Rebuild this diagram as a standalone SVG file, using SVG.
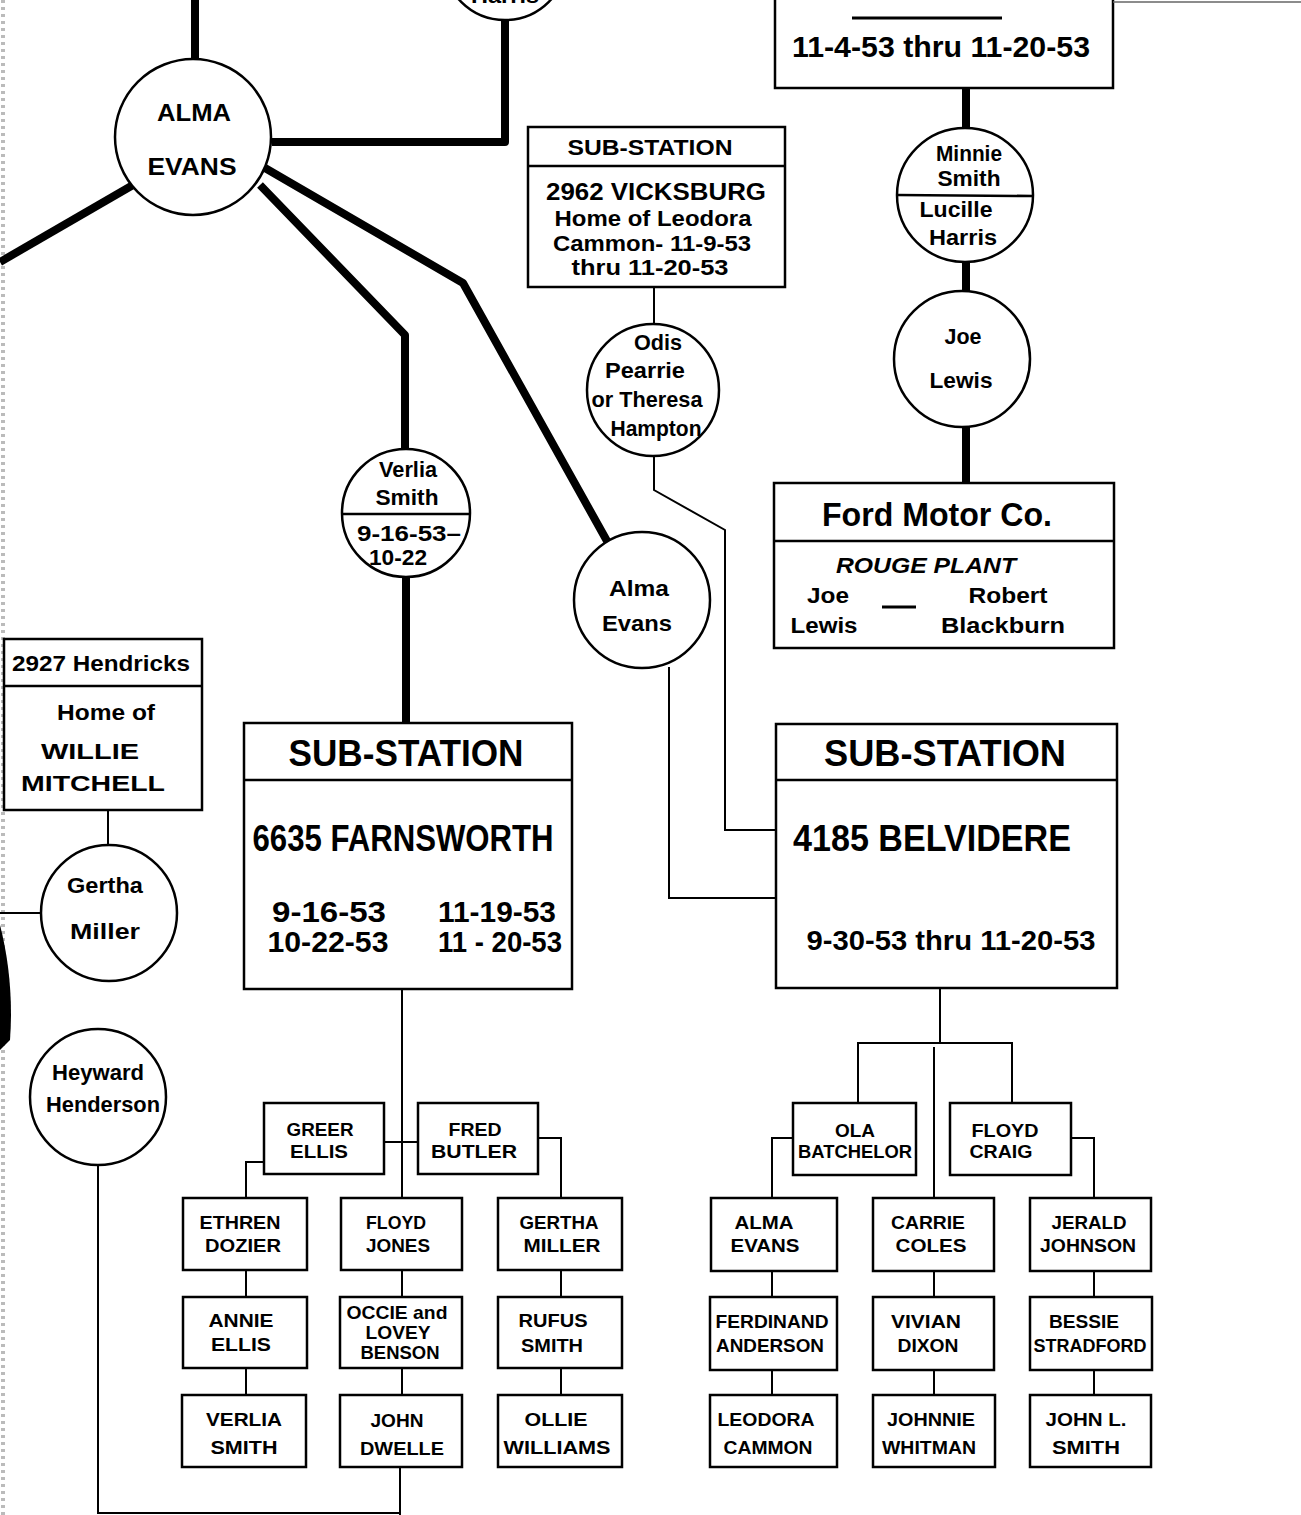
<svg xmlns="http://www.w3.org/2000/svg" width="1301" height="1515" viewBox="0 0 1301 1515">
<style>
.thick{stroke:#000;stroke-width:8;fill:none;stroke-linejoin:round}
.thin{stroke:#000;stroke-width:2;fill:none}
.box{fill:#fff;stroke:#000;stroke-width:2.5}
.div{stroke:#000;stroke-width:2.5}
.t{font-family:"Liberation Sans",Arial,sans-serif;font-weight:bold;text-anchor:middle;fill:#000}
.c{font-size:22px}
.s{font-size:19px}
.st{text-anchor:start}
</style>
<rect width="1301" height="1515" fill="#fff"/>
<line x1="3" y1="0" x2="3" y2="1515" stroke="#bbb" stroke-width="4" stroke-dasharray="3 4"/>
<path d="M0,925 C9,960 13,1000 10,1040 L0,1050 Z" fill="#000"/>
<g id="connectors">
<path class="thick" d="M195,0 V60"/>
<path class="thick" d="M272,142 H505 V18"/>
<path class="thick" d="M133,185 L0,262"/>
<path class="thick" d="M260,185 L405,335 V450"/>
<path class="thick" d="M265,168 L463,283 L607,541"/>
<path class="thick" d="M966,88 V130"/>
<path class="thick" d="M966,262 V292"/>
<path class="thick" d="M966,426 V483"/>
<path class="thick" d="M406,576 V723"/>
<path class="thin" d="M654,287 V325"/>
<path class="thin" d="M654,456 V490 L725,530 V830 H776"/>
<path class="thin" d="M669,667 V898 H776"/>
<path class="thin" d="M108,810 V846"/>
<path class="thin" d="M0,913 H41"/>
<path class="thin" d="M98,1165 V1513 H400"/>
<path class="thin" d="M400,1467 V1515"/>
<path class="thin" d="M402,989 V1198"/>
<path class="thin" d="M384,1142 H418"/>
<path class="thin" d="M264,1162 H246 V1198"/>
<path class="thin" d="M538,1138 H561 V1198"/>
<path class="thin" d="M246,1270 V1297 M246,1368 V1395 M402,1270 V1297 M402,1368 V1395 M561,1270 V1297 M561,1368 V1395"/>
<path class="thin" d="M940,988 V1043"/>
<path class="thin" d="M858,1103 V1043 H1012 V1103"/>
<path class="thin" d="M934,1047 V1198"/>
<path class="thin" d="M793,1138 H772 V1198"/>
<path class="thin" d="M1071,1138 H1094 V1198"/>
<path class="thin" d="M772,1271 V1297 M772,1370 V1395 M934,1271 V1297 M934,1370 V1395 M1094,1271 V1297 M1094,1370 V1395"/>
</g>

<g id="harris-top">
<circle class="box" cx="505" cy="-42" r="62"/>
<text class="t c" x="505" y="3" textLength="68" lengthAdjust="spacingAndGlyphs">Harris</text>
</g>
<g id="alma-evans-main">
<circle class="box" cx="193" cy="137" r="78"/>
<text class="t" font-size="24" x="194" y="121" textLength="74" lengthAdjust="spacingAndGlyphs">ALMA</text>
<text class="t" font-size="24" x="192" y="175" textLength="89" lengthAdjust="spacingAndGlyphs">EVANS</text>
</g>
<g id="top-box">
<rect class="box" x="775" y="-5" width="338" height="93"/>
<line x1="1113" y1="2" x2="1301" y2="2" stroke="#666" stroke-width="1.5"/>
<line x1="852" y1="18" x2="1002" y2="18" stroke="#000" stroke-width="3"/>
<text class="t" font-size="30" x="941" y="57" textLength="298" lengthAdjust="spacingAndGlyphs">11-4-53 thru 11-20-53</text>
</g>
<g id="vicksburg">
<rect class="box" x="528" y="127" width="257" height="160"/>
<line class="div" x1="528" y1="166" x2="785" y2="166"/>
<text class="t c" x="650" y="155" textLength="165" lengthAdjust="spacingAndGlyphs">SUB-STATION</text>
<text class="t" font-size="24" x="656" y="200" textLength="220" lengthAdjust="spacingAndGlyphs">2962 VICKSBURG</text>
<text class="t c" x="653" y="226" textLength="197" lengthAdjust="spacingAndGlyphs">Home of Leodora</text>
<text class="t c" x="652" y="251" textLength="198" lengthAdjust="spacingAndGlyphs">Cammon- 11-9-53</text>
<text class="t c" x="650" y="275" textLength="157" lengthAdjust="spacingAndGlyphs">thru 11-20-53</text>
</g>
<g id="minnie-lucille">
<ellipse class="box" cx="965" cy="195" rx="68" ry="67"/>
<line class="div" x1="897" y1="195" x2="1033" y2="196"/>
<text class="t c" x="969" y="161" textLength="66" lengthAdjust="spacingAndGlyphs">Minnie</text>
<text class="t c" x="969" y="186" textLength="63" lengthAdjust="spacingAndGlyphs">Smith</text>
<text class="t c" x="956" y="217" textLength="73" lengthAdjust="spacingAndGlyphs">Lucille</text>
<text class="t c" x="963" y="245" textLength="68" lengthAdjust="spacingAndGlyphs">Harris</text>
</g>
<g id="joe-lewis">
<circle class="box" cx="962" cy="359" r="68"/>
<text class="t c" x="963" y="344" textLength="37" lengthAdjust="spacingAndGlyphs">Joe</text>
<text class="t c" x="961" y="388" textLength="63" lengthAdjust="spacingAndGlyphs">Lewis</text>
</g>
<g id="odis">
<circle class="box" cx="653" cy="390" r="66"/>
<text class="t c" x="658" y="350" textLength="48" lengthAdjust="spacingAndGlyphs">Odis</text>
<text class="t c" x="645" y="378" textLength="80" lengthAdjust="spacingAndGlyphs">Pearrie</text>
<text class="t c" x="647" y="407" textLength="111" lengthAdjust="spacingAndGlyphs">or Theresa</text>
<text class="t c" x="656" y="436" textLength="91" lengthAdjust="spacingAndGlyphs">Hampton</text>
</g>
<g id="ford">
<rect class="box" x="774" y="483" width="340" height="165"/>
<line class="div" x1="774" y1="541" x2="1114" y2="541"/>
<text class="t" font-size="34" x="937" y="526" textLength="230" lengthAdjust="spacingAndGlyphs">Ford Motor Co.</text>
<text class="t c" font-style="italic" x="926" y="573" textLength="180" lengthAdjust="spacingAndGlyphs">ROUGE PLANT</text>
<text class="t c" x="828" y="603" textLength="42" lengthAdjust="spacingAndGlyphs">Joe</text>
<text class="t c" x="824" y="633" textLength="67" lengthAdjust="spacingAndGlyphs">Lewis</text>
<line x1="882" y1="607" x2="916" y2="607" stroke="#000" stroke-width="3"/>
<text class="t c" x="1008" y="603" textLength="79" lengthAdjust="spacingAndGlyphs">Robert</text>
<text class="t c" x="1003" y="633" textLength="124" lengthAdjust="spacingAndGlyphs">Blackburn</text>
</g>
<g id="verlia">
<circle class="box" cx="406" cy="513" r="64"/>
<line class="div" x1="342" y1="514" x2="470" y2="514"/>
<text class="t c" x="408" y="477" textLength="58" lengthAdjust="spacingAndGlyphs">Verlia</text>
<text class="t c" x="407" y="505" textLength="63" lengthAdjust="spacingAndGlyphs">Smith</text>
<text class="t c" x="409" y="541" textLength="104" lengthAdjust="spacingAndGlyphs">9-16-53–</text>
<text class="t c" x="398" y="565" textLength="58" lengthAdjust="spacingAndGlyphs">10-22</text>
</g>
<g id="alma-evans-2">
<circle class="box" cx="642" cy="600" r="68"/>
<text class="t c" x="639" y="596" textLength="60" lengthAdjust="spacingAndGlyphs">Alma</text>
<text class="t c" x="637" y="631" textLength="70" lengthAdjust="spacingAndGlyphs">Evans</text>
</g>
<g id="hendricks">
<rect class="box" x="4" y="639" width="198" height="171"/>
<line class="div" x1="4" y1="686" x2="202" y2="686"/>
<text class="t c" x="101" y="671" textLength="178" lengthAdjust="spacingAndGlyphs">2927 Hendricks</text>
<text class="t c" x="106" y="720" textLength="98" lengthAdjust="spacingAndGlyphs">Home of</text>
<text class="t c" x="90" y="759" textLength="98" lengthAdjust="spacingAndGlyphs">WILLIE</text>
<text class="t c" x="93" y="791" textLength="144" lengthAdjust="spacingAndGlyphs">MITCHELL</text>
</g>
<g id="gertha-circle">
<circle class="box" cx="109" cy="913" r="68"/>
<text class="t c" x="105" y="893" textLength="76" lengthAdjust="spacingAndGlyphs">Gertha</text>
<text class="t c" x="105" y="939" textLength="70" lengthAdjust="spacingAndGlyphs">Miller</text>
</g>
<g id="heyward">
<circle class="box" cx="98" cy="1097" r="68"/>
<text class="t c" x="98" y="1080" textLength="92" lengthAdjust="spacingAndGlyphs">Heyward</text>
<text class="t c" x="103" y="1112" textLength="114" lengthAdjust="spacingAndGlyphs">Henderson</text>
</g>
<g id="farnsworth">
<rect class="box" x="244" y="723" width="328" height="266"/>
<line class="div" x1="244" y1="780" x2="572" y2="780"/>
<text class="t" font-size="36" x="406" y="766" textLength="235" lengthAdjust="spacingAndGlyphs">SUB-STATION</text>
<text class="t" font-size="36" x="403" y="851" textLength="301" lengthAdjust="spacingAndGlyphs">6635 FARNSWORTH</text>
<text class="t" font-size="30" x="329" y="922" textLength="114" lengthAdjust="spacingAndGlyphs">9-16-53</text>
<text class="t" font-size="30" x="328" y="952" textLength="121" lengthAdjust="spacingAndGlyphs">10-22-53</text>
<text class="t" font-size="30" x="497" y="922" textLength="118" lengthAdjust="spacingAndGlyphs">11-19-53</text>
<text class="t" font-size="30" x="500" y="952" textLength="124" lengthAdjust="spacingAndGlyphs">11 - 20-53</text>
</g>
<g id="belvidere">
<rect class="box" x="776" y="724" width="341" height="264"/>
<line class="div" x1="776" y1="780" x2="1117" y2="780"/>
<text class="t" font-size="36" x="945" y="766" textLength="242" lengthAdjust="spacingAndGlyphs">SUB-STATION</text>
<text class="t st" font-size="36" x="793" y="851" textLength="278" lengthAdjust="spacingAndGlyphs">4185 BELVIDERE</text>
<text class="t" font-size="28" x="951" y="950" textLength="289" lengthAdjust="spacingAndGlyphs">9-30-53 thru 11-20-53</text>
</g>

<g id="greer-ellis"><rect class="box" x="264" y="1103" width="120" height="71"/>
<text class="t s" x="320" y="1136" textLength="67" lengthAdjust="spacingAndGlyphs">GREER</text>
<text class="t s" x="319" y="1158" textLength="58" lengthAdjust="spacingAndGlyphs">ELLIS</text></g>
<g id="fred-butler"><rect class="box" x="418" y="1103" width="120" height="71"/>
<text class="t s" x="475" y="1136" textLength="53" lengthAdjust="spacingAndGlyphs">FRED</text>
<text class="t s" x="474" y="1158" textLength="86" lengthAdjust="spacingAndGlyphs">BUTLER</text></g>
<g id="ethren-dozier"><rect class="box" x="183" y="1198" width="124" height="72"/>
<text class="t s" x="240" y="1229" textLength="81" lengthAdjust="spacingAndGlyphs">ETHREN</text>
<text class="t s" x="243" y="1252" textLength="76" lengthAdjust="spacingAndGlyphs">DOZIER</text></g>
<g id="floyd-jones"><rect class="box" x="341" y="1198" width="121" height="72"/>
<text class="t s" x="396" y="1229" textLength="60" lengthAdjust="spacingAndGlyphs">FLOYD</text>
<text class="t s" x="398" y="1252" textLength="64" lengthAdjust="spacingAndGlyphs">JONES</text></g>
<g id="gertha-miller"><rect class="box" x="498" y="1198" width="124" height="72"/>
<text class="t s" x="559" y="1229" textLength="79" lengthAdjust="spacingAndGlyphs">GERTHA</text>
<text class="t s" x="562" y="1252" textLength="77" lengthAdjust="spacingAndGlyphs">MILLER</text></g>
<g id="annie-ellis"><rect class="box" x="183" y="1297" width="124" height="71"/>
<text class="t s" x="241" y="1327" textLength="65" lengthAdjust="spacingAndGlyphs">ANNIE</text>
<text class="t s" x="241" y="1351" textLength="60" lengthAdjust="spacingAndGlyphs">ELLIS</text></g>
<g id="occie-lovey"><rect class="box" x="340" y="1297" width="122" height="71"/>
<text class="t s" x="397" y="1319" textLength="101" lengthAdjust="spacingAndGlyphs">OCCIE and</text>
<text class="t s" x="398" y="1339" textLength="65" lengthAdjust="spacingAndGlyphs">LOVEY</text>
<text class="t s" x="400" y="1359" textLength="79" lengthAdjust="spacingAndGlyphs">BENSON</text></g>
<g id="rufus-smith"><rect class="box" x="498" y="1297" width="124" height="71"/>
<text class="t s" x="553" y="1327" textLength="69" lengthAdjust="spacingAndGlyphs">RUFUS</text>
<text class="t s" x="552" y="1352" textLength="62" lengthAdjust="spacingAndGlyphs">SMITH</text></g>
<g id="verlia-smith"><rect class="box" x="182" y="1395" width="124" height="72"/>
<text class="t s" x="244" y="1426" textLength="76" lengthAdjust="spacingAndGlyphs">VERLIA</text>
<text class="t s" x="244" y="1454" textLength="67" lengthAdjust="spacingAndGlyphs">SMITH</text></g>
<g id="john-dwelle"><rect class="box" x="340" y="1395" width="122" height="72"/>
<text class="t s" x="397" y="1427" textLength="53" lengthAdjust="spacingAndGlyphs">JOHN</text>
<text class="t s" x="402" y="1455" textLength="84" lengthAdjust="spacingAndGlyphs">DWELLE</text></g>
<g id="ollie-williams"><rect class="box" x="498" y="1395" width="124" height="72"/>
<text class="t s" x="556" y="1426" textLength="63" lengthAdjust="spacingAndGlyphs">OLLIE</text>
<text class="t s" x="557" y="1454" textLength="107" lengthAdjust="spacingAndGlyphs">WILLIAMS</text></g>

<g id="ola-batchelor"><rect class="box" x="793" y="1103" width="123" height="72"/>
<text class="t s" x="855" y="1137" textLength="40" lengthAdjust="spacingAndGlyphs">OLA</text>
<text class="t s" x="855" y="1158" textLength="114" lengthAdjust="spacingAndGlyphs">BATCHELOR</text></g>
<g id="floyd-craig"><rect class="box" x="950" y="1103" width="121" height="72"/>
<text class="t s" x="1005" y="1137" textLength="67" lengthAdjust="spacingAndGlyphs">FLOYD</text>
<text class="t s" x="1001" y="1158" textLength="63" lengthAdjust="spacingAndGlyphs">CRAIG</text></g>
<g id="alma-evans-box"><rect class="box" x="711" y="1198" width="126" height="73"/>
<text class="t s" x="764" y="1229" textLength="59" lengthAdjust="spacingAndGlyphs">ALMA</text>
<text class="t s" x="765" y="1252" textLength="69" lengthAdjust="spacingAndGlyphs">EVANS</text></g>
<g id="carrie-coles"><rect class="box" x="873" y="1198" width="121" height="73"/>
<text class="t s" x="928" y="1229" textLength="74" lengthAdjust="spacingAndGlyphs">CARRIE</text>
<text class="t s" x="931" y="1252" textLength="71" lengthAdjust="spacingAndGlyphs">COLES</text></g>
<g id="jerald-johnson"><rect class="box" x="1030" y="1198" width="121" height="73"/>
<text class="t s" x="1089" y="1229" textLength="75" lengthAdjust="spacingAndGlyphs">JERALD</text>
<text class="t s" x="1088" y="1252" textLength="96" lengthAdjust="spacingAndGlyphs">JOHNSON</text></g>
<g id="ferdinand-anderson"><rect class="box" x="710" y="1297" width="127" height="73"/>
<text class="t s" x="772" y="1328" textLength="113" lengthAdjust="spacingAndGlyphs">FERDINAND</text>
<text class="t s" x="770" y="1352" textLength="108" lengthAdjust="spacingAndGlyphs">ANDERSON</text></g>
<g id="vivian-dixon"><rect class="box" x="873" y="1297" width="121" height="73"/>
<text class="t s" x="926" y="1328" textLength="70" lengthAdjust="spacingAndGlyphs">VIVIAN</text>
<text class="t s" x="928" y="1352" textLength="61" lengthAdjust="spacingAndGlyphs">DIXON</text></g>
<g id="bessie-stradford"><rect class="box" x="1030" y="1297" width="122" height="73"/>
<text class="t s" x="1084" y="1328" textLength="70" lengthAdjust="spacingAndGlyphs">BESSIE</text>
<text class="t s" x="1090" y="1352" textLength="113" lengthAdjust="spacingAndGlyphs">STRADFORD</text></g>
<g id="leodora-cammon"><rect class="box" x="710" y="1395" width="127" height="72"/>
<text class="t s" x="766" y="1426" textLength="97" lengthAdjust="spacingAndGlyphs">LEODORA</text>
<text class="t s" x="768" y="1454" textLength="89" lengthAdjust="spacingAndGlyphs">CAMMON</text></g>
<g id="johnnie-whitman"><rect class="box" x="873" y="1395" width="122" height="72"/>
<text class="t s" x="931" y="1426" textLength="88" lengthAdjust="spacingAndGlyphs">JOHNNIE</text>
<text class="t s" x="929" y="1454" textLength="94" lengthAdjust="spacingAndGlyphs">WHITMAN</text></g>
<g id="john-l-smith"><rect class="box" x="1030" y="1395" width="121" height="72"/>
<text class="t s" x="1086" y="1426" textLength="81" lengthAdjust="spacingAndGlyphs">JOHN L.</text>
<text class="t s" x="1086" y="1454" textLength="68" lengthAdjust="spacingAndGlyphs">SMITH</text></g>
</svg>
